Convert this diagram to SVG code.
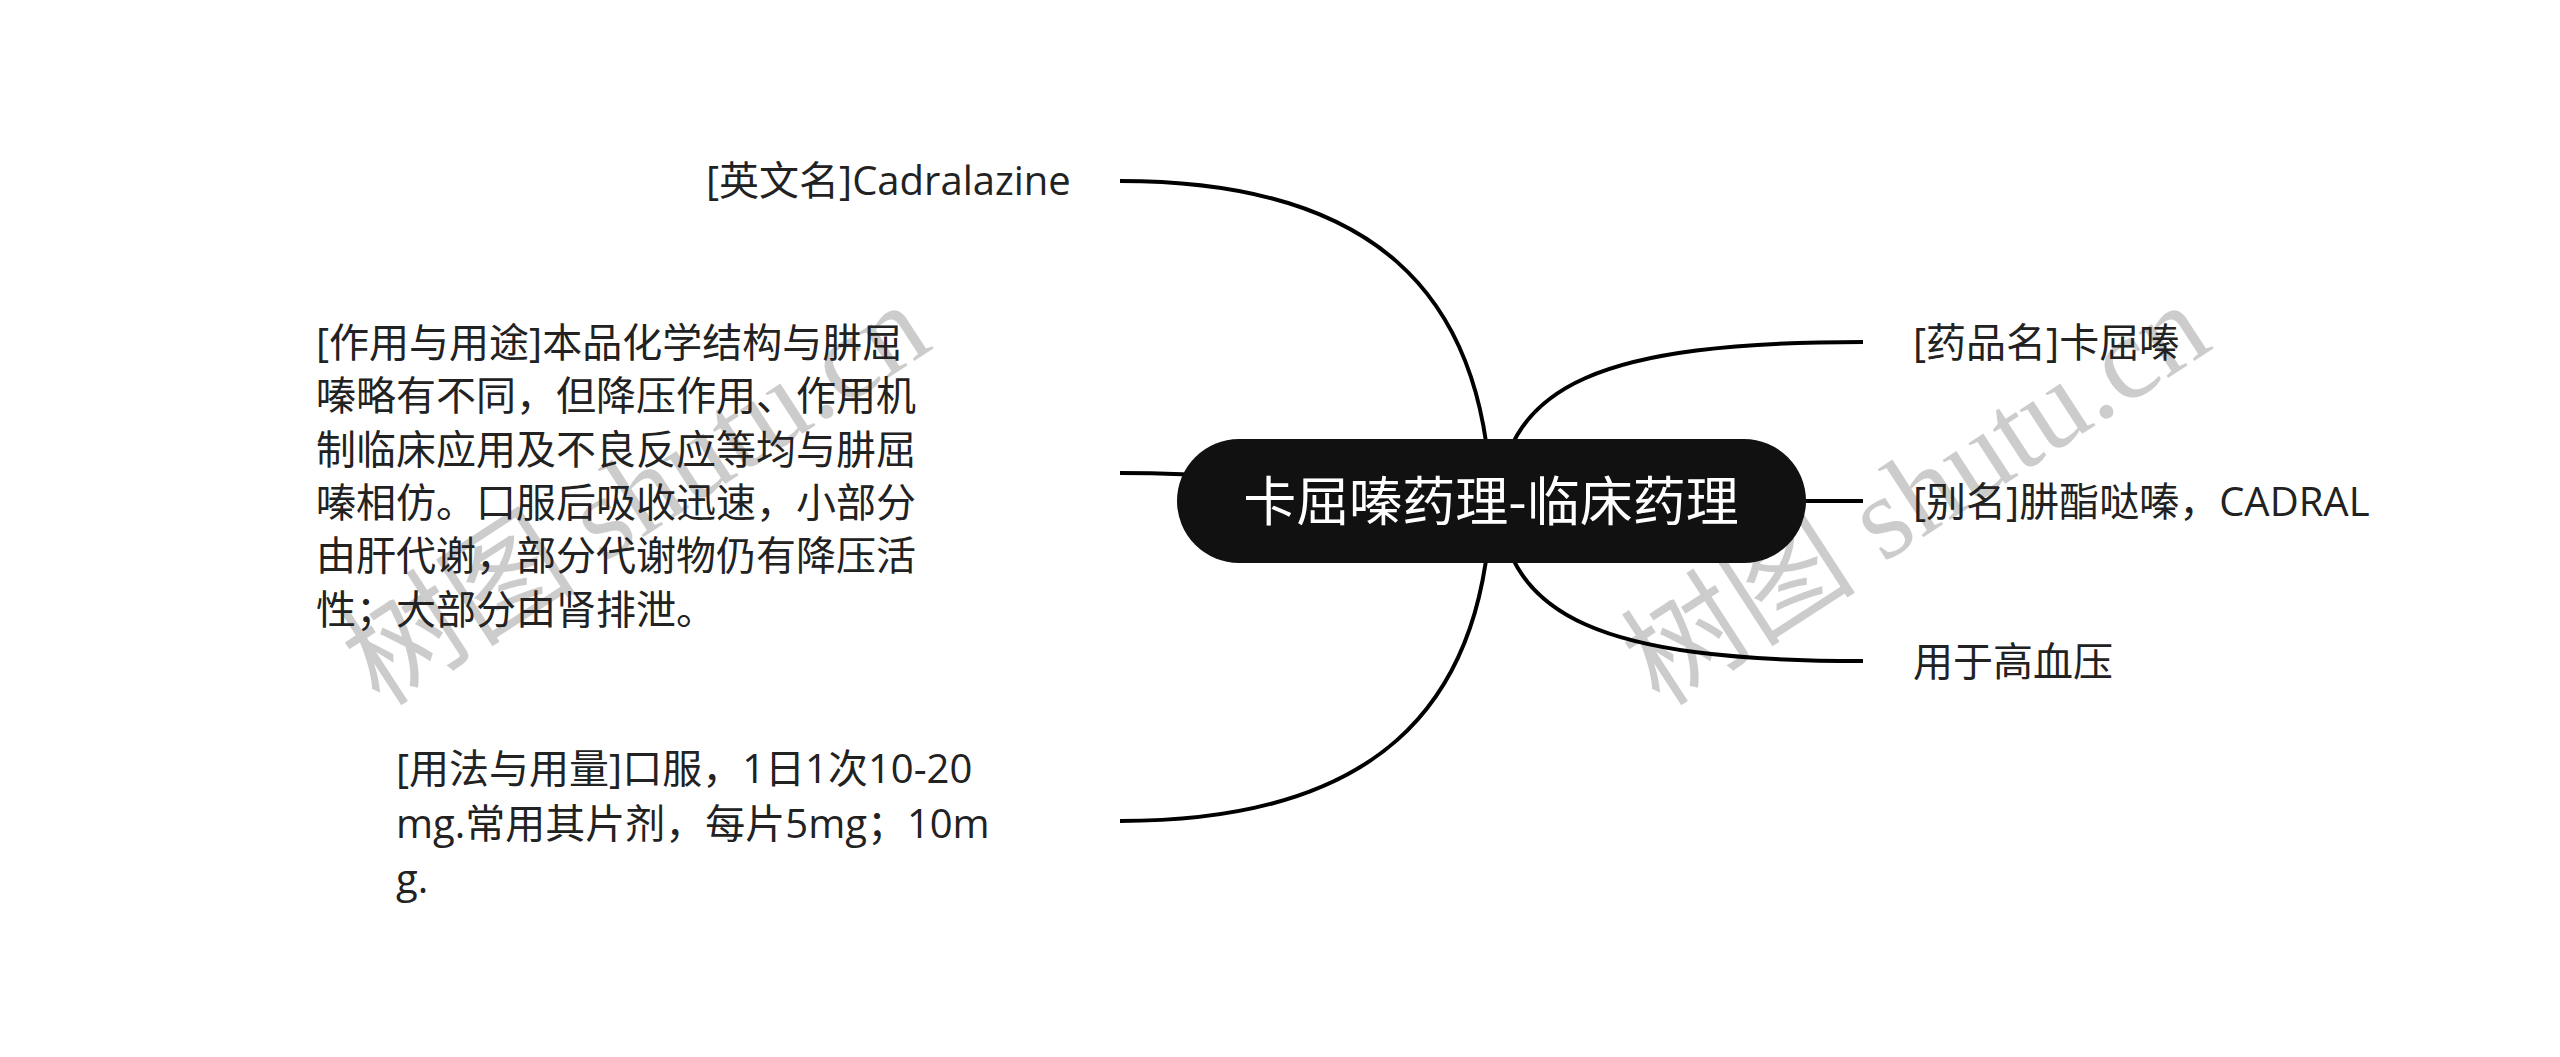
<svg xmlns="http://www.w3.org/2000/svg" width="2560" height="1057" viewBox="0 0 2560 1057">
<style>
.t{font-family:"Open Sans","Noto Sans CJK SC",sans-serif;font-size:40px;fill:#222}
.c{fill:none;stroke:#000;stroke-width:4;stroke-linecap:butt}
.wm{font-family:"Liberation Serif","Noto Sans CJK SC",serif;font-size:118px;fill:#000;fill-opacity:0.2}
.root{font-family:"Noto Sans CJK SC",sans-serif;font-size:53px;fill:#fff}
</style>
<rect width="2560" height="1057" fill="#fff"/>
<g id="watermarks">
<text class="wm" transform="translate(380 708) rotate(-33)">树图 shutu.cn</text>
<text class="wm" transform="translate(1660 708) rotate(-33)">树图 shutu.cn</text>
</g>
<g id="connectors">
<path class="c" d="M1491 501 C1485 290 1370 181 1120 181"/>
<path class="c" d="M1491 501 C1350 501 1300 473 1120 473"/>
<path class="c" d="M1491 501 C1485 712 1370 821 1120 821"/>
<path class="c" d="M1498 501 C1508 385 1600 342 1863 342"/>
<path class="c" d="M1498 501 L1863 501"/>
<path class="c" d="M1498 501 C1508 617 1600 661 1863 661"/>
</g>
<g id="root">
<rect x="1177" y="439" width="629" height="124" rx="62" ry="62" fill="#111"/>
<text class="root" x="1491" y="521" text-anchor="middle">卡屈嗪药理-临床药理</text>
</g>
<g id="n-english">
<text class="t" x="706" y="195">[英文名]Cadralazine</text>
</g>
<g id="n-usage">
<text class="t" x="316" y="357">[作用与用途]本品化学结构与肼屈</text>
<text class="t" x="316" y="410">嗪略有不同，但降压作用、作用机</text>
<text class="t" x="316" y="464">制临床应用及不良反应等均与肼屈</text>
<text class="t" x="316" y="517">嗪相仿。口服后吸收迅速，小部分</text>
<text class="t" x="316" y="570">由肝代谢，部分代谢物仍有降压活</text>
<text class="t" x="316" y="624">性；大部分由肾排泄。</text>
</g>
<g id="n-dosage">
<text class="t" x="396" y="783">[用法与用量]口服，1日1次10-20</text>
<text class="t" x="396" y="838">mg.常用其片剂，每片5mg；10m</text>
<text class="t" x="396" y="893">g.</text>
</g>
<g id="n-name">
<text class="t" x="1913" y="357">[药品名]卡屈嗪</text>
</g>
<g id="n-alias">
<text class="t" x="1913" y="516">[别名]肼酯哒嗪，CADRAL</text>
</g>
<g id="n-indication">
<text class="t" x="1913" y="676">用于高血压</text>
</g>
</svg>
